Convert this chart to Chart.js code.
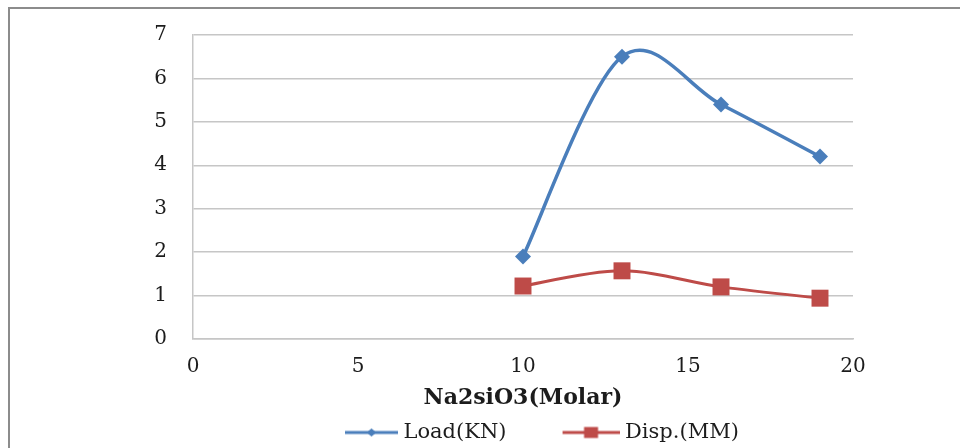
<!DOCTYPE html>
<html>
<head>
<meta charset="utf-8">
<script src="https://cdn.jsdelivr.net/npm/chart.js@4/dist/chart.umd.min.js"></script>
<style>
  html, body { margin: 0; padding: 0; background: #fff; overflow: hidden; }
  #wrap { position: relative; width: 960px; height: 448px; overflow: hidden; }
  #frame {
    position: absolute; left: 8px; top: 7px; width: 960px; height: 460px;
    border-left: 2px solid #8c8c8c; border-top: 2px solid #8c8c8c;
    pointer-events: none;
  }
  canvas { position: absolute; left: 0; top: 0; }
</style>
</head>
<body>
<div id="wrap">
  <canvas id="c" width="960" height="460"></canvas>
  <div id="frame"></div>
</div>
<script>
// Sodium silicate molarity tested
const molarity = [10, 13, 16, 19];
// Failure load in kN
const loadKN = [1.9, 6.5, 5.4, 4.2];
// Displacement in mm
const dispMM = [1.22, 1.57, 1.2, 0.94];
const seriesNames = ['Load(KN)', 'Disp.(MM)'];
const axisTitle = 'Na2siO3(Molar)';
const xRange = [0, 20, 5];
const yRange = [0, 7, 1];

const BLUE = '#4a7ebb';
const RED = '#be4b48';
const INK = '#1c1c1c';
const GRID = '#c6c6c6';
const FONT = "'DejaVu Serif', 'Liberation Serif', serif";

Chart.defaults.font.family = FONT;
Chart.defaults.color = INK;

function toPoints(xs, ys) {
  return xs.map((x, i) => ({ x: x, y: ys[i] }));
}

// Legend swatch: a short line with the series marker in its middle
function legendIcon(color, marker, lineStart) {
  const cv = document.createElement('canvas');
  cv.width = 110; cv.height = 24;
  const g = cv.getContext('2d');
  g.strokeStyle = color; g.lineWidth = 3;
  g.beginPath(); g.moveTo(lineStart, 12); g.lineTo(110, 12); g.stroke();
  const cx = (lineStart + 110) / 2;
  g.fillStyle = color;
  g.beginPath();
  if (marker === 'diamond') {
    g.moveTo(cx - 5, 12); g.lineTo(cx, 8); g.lineTo(cx + 5, 12); g.lineTo(cx, 16);
  } else {
    g.rect(cx - 7, 6.5, 14, 11);
  }
  g.closePath(); g.fill();
  return cv;
}
const icons = [legendIcon(BLUE, 'diamond', 57), legendIcon(RED, 'square', 53)];

// Place the legend row at a fixed starting x
const legendStartX = 293;
const legendShift = {
  id: 'legendShift',
  afterLayout(chart) {
    const lg = chart.legend;
    if (!lg || !lg.lineWidths) return;
    const pad = lg.options.labels.padding;
    const start = (lg.left + pad + lg.right - lg.lineWidths[0]) / 2;
    const dx = legendStartX - start;
    lg.left += dx; lg.right += dx;
  }
};

// Spreadsheet-style smoothing: each point's handles run parallel to the
// chord between its neighbours, one sixth of its length.
const evenSmoothing = {
  id: 'evenSmoothing',
  beforeDatasetDraw(chart, args) {
    const meta = args.meta;
    const line = meta.dataset;
    if (!line) return;
    line.updateControlPoints(chart.chartArea, 'x');
    const pts = meta.data;
    const n = pts.length;
    for (let i = 0; i < n; i++) {
      const p = pts[i];
      const prev = pts[Math.max(i - 1, 0)];
      const next = pts[Math.min(i + 1, n - 1)];
      const dx = (next.x - prev.x) / 6;
      const dy = (next.y - prev.y) / 6;
      p.cp1x = p.x - dx; p.cp1y = p.y - dy;
      p.cp2x = p.x + dx; p.cp2y = p.y + dy;
    }
  }
};

new Chart(document.getElementById('c'), {
  type: 'line',
  data: {
    datasets: [
      {
        label: seriesNames[0],
        data: toPoints(molarity, loadKN),
        borderColor: BLUE,
        backgroundColor: BLUE,
        borderWidth: 3.5,
        pointStyle: 'rectRot',
        pointRadius: 8,
        pointBorderWidth: 0,
        tension: 0.4,
        fill: false
      },
      {
        label: seriesNames[1],
        data: toPoints(molarity, dispMM),
        borderColor: RED,
        backgroundColor: RED,
        borderWidth: 3,
        pointStyle: 'rect',
        pointRadius: 12,
        pointBorderWidth: 0,
        tension: 0.4,
        fill: false
      }
    ]
  },
  options: {
    responsive: false,
    animation: false,
    devicePixelRatio: 1,
    layout: { padding: { top: 35, right: 107, bottom: 7, left: 0 } },
    scales: {
      x: {
        type: 'linear',
        min: xRange[0], max: xRange[1],
        ticks: { stepSize: xRange[2], padding: 16, font: { size: 20 }, color: INK },
        grid: { display: false, drawTicks: false },
        border: { display: true, color: GRID, width: 1.5 },
        title: {
          display: true, text: axisTitle, color: INK,
          font: { size: 22, weight: 'bold' },
          padding: { top: 0, bottom: 3 }
        },
        afterFit(scale) { scale.height = 75; }
      },
      y: {
        min: yRange[0], max: yRange[1],
        ticks: { stepSize: yRange[2], padding: 0, font: { size: 20 }, color: INK },
        grid: { color: GRID, lineWidth: 1.5, drawTicks: true, tickLength: 26, tickColor: 'rgba(0,0,0,0)' },
        border: { display: true, color: GRID, width: 1.5 },
        afterFit(scale) { scale.width = 193; }
      }
    },
    plugins: {
      tooltip: { enabled: false },
      legend: {
        position: 'bottom',
        labels: {
          usePointStyle: true,
          pointStyleWidth: 100,
          padding: 8,
          color: INK,
          font: { size: 21 },
          generateLabels(chart) {
            return chart.data.datasets.map((ds, i) => ({
              text: ds.label,
              pointStyle: icons[i],
              datasetIndex: i,
              hidden: false,
              fontColor: INK,
              fillStyle: 'transparent',
              strokeStyle: 'transparent',
              lineWidth: 0
            }));
          }
        }
      }
    }
  },
  plugins: [legendShift, evenSmoothing]
});
</script>
</body>
</html>
